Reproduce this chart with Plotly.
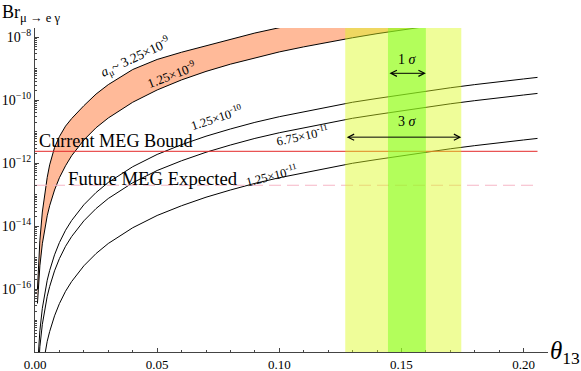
import plotly.graph_objects as go

# theta_13 grid and log10(Br) for each a_mu curve
theta = [0.001, 0.0015, 0.002, 0.003, 0.004, 0.005, 0.006, 0.008, 0.010, 0.0125,
         0.015, 0.02, 0.025, 0.03, 0.04, 0.05, 0.06, 0.07, 0.08, 0.09,
         0.10, 0.11, 0.12, 0.13, 0.14, 0.15, 0.16, 0.17, 0.18, 0.19, 0.20, 0.2057]

log_br_325e9 = [-16.00, -15.05, -14.45, -13.55, -12.95, -12.45, -12.05, -11.50, -11.15, -10.82,
                -10.58, -10.17, -9.80, -9.50, -9.02, -8.70, -8.47, -8.26, -8.05, -7.86,
                -7.69, -7.53, -7.38, -7.24, -7.11, -6.99, -6.88, -6.77, -6.67, -6.58, -6.49, -6.44]
log_br_125e9 = [-16.46, -15.76, -15.26, -14.56, -14.06, -13.67, -13.35, -12.85, -12.46, -12.08,
                -11.76, -11.26, -10.87, -10.56, -10.06, -9.67, -9.35, -9.08, -8.85, -8.65,
                -8.46, -8.30, -8.15, -8.01, -7.88, -7.76, -7.65, -7.54, -7.44, -7.35, -7.26, -7.21]
log_br_125e10 = [-18.52, -17.82, -17.32, -16.61, -16.11, -15.72, -15.41, -14.91, -14.52, -14.13,
                 -13.82, -13.32, -12.93, -12.61, -12.11, -11.72, -11.41, -11.14, -10.91, -10.70,
                 -10.52, -10.36, -10.20, -10.06, -9.94, -9.82, -9.70, -9.60, -9.50, -9.40, -9.32, -9.27]
log_br_675e11 = [-19.03, -18.33, -17.83, -17.12, -16.62, -16.23, -15.92, -15.42, -15.03, -14.64,
                 -14.33, -13.83, -13.44, -13.12, -12.62, -12.23, -11.92, -11.65, -11.42, -11.21,
                 -11.03, -10.87, -10.71, -10.57, -10.45, -10.33, -10.21, -10.11, -10.01, -9.91, -9.83, -9.78]
log_br_125e11 = [-20.46, -19.76, -19.26, -18.55, -18.05, -17.66, -17.35, -16.85, -16.46, -16.07,
                 -15.76, -15.26, -14.87, -14.55, -14.05, -13.66, -13.35, -13.08, -12.85, -12.64,
                 -12.46, -12.30, -12.14, -12.00, -11.88, -11.76, -11.64, -11.54, -11.44, -11.34, -11.26, -11.21]

meg_bound = 2.4e-12
meg_future = 2.0e-13
theta_end = 0.2057

sigma1 = [0.1445, 0.160]
sigma3 = [0.127, 0.1745]

x_ticks = [0.0, 0.05, 0.10, 0.15, 0.20]
x_ticktext = ["0.00", "0.05", "0.10", "0.15", "0.20"]
y_exps = [-16, -14, -12, -10, -8]

SERIF = "Liberation Serif"


def br(logs):
    return [10 ** v for v in logs]


fig = go.Figure()

# orange band between the two a_mu curves
fig.add_trace(go.Scatter(x=theta, y=br(log_br_125e9), mode="lines",
                         line=dict(color="black", width=1)))
fig.add_trace(go.Scatter(x=theta, y=br(log_br_325e9), mode="lines", fill="tonexty",
                         fillcolor="rgb(255,186,153)", line=dict(color="black", width=1)))
for logs in [log_br_125e10, log_br_675e11, log_br_125e11]:
    fig.add_trace(go.Scatter(x=theta, y=br(logs), mode="lines",
                             line=dict(color="black", width=1)))

fig.add_trace(go.Scatter(x=[0, theta_end], y=[meg_bound, meg_bound], mode="lines",
                         line=dict(color="rgb(228,40,40)", width=1)))
fig.add_trace(go.Scatter(x=[0, theta_end], y=[meg_future, meg_future], mode="lines",
                         line=dict(color="rgb(246,182,198)", width=1, dash="12px,6px")))

# theta_13 bands, drawn over the curves so they tint them
fig.add_shape(type="rect", xref="x", yref="paper", x0=sigma3[0], x1=sigma3[1], y0=0, y1=1,
              fillcolor="rgb(219,251,28)", opacity=0.45, line_width=0, layer="above")
fig.add_shape(type="rect", xref="x", yref="paper", x0=sigma1[0], x1=sigma1[1], y0=0, y1=1,
              fillcolor="rgb(120,255,30)", opacity=0.5, line_width=0, layer="above")

minor_vals = [k * 10.0 ** d for d in range(-18, -7) for k in range(1, 10)]

fig.update_layout(
    width=581, height=371,
    margin=dict(l=35, r=33, t=28, b=19),
    paper_bgcolor="white", plot_bgcolor="white",
    showlegend=False,
    hovermode=False,
    xaxis=dict(range=[0, 0.21], tickvals=x_ticks, ticktext=x_ticktext, automargin=False,
               ticks="inside", ticklen=4, tickcolor="#444",
               showline=True, linecolor="#444", linewidth=1,
               showgrid=False, zeroline=False,
               tickfont=dict(family=SERIF, size=13, color="black"),
               minor=dict(dtick=0.01, ticks="inside", ticklen=2, tickcolor="#444")),
    yaxis=dict(type="log", range=[-18, -7.7], automargin=False,
               tickvals=[10.0 ** e for e in y_exps],
               ticktext=["10<sup>\u2212%d</sup>" % (-e) for e in y_exps],
               ticks="inside", ticklen=4, tickcolor="#444",
               showline=True, linecolor="#444", linewidth=1,
               showgrid=False, zeroline=False,
               tickfont=dict(family=SERIF, size=14, color="black"),
               minor=dict(tickmode="array", tickvals=minor_vals, ticks="inside",
                          ticklen=2, tickcolor="#444")),
)

# axis titles
fig.add_annotation(xref="paper", yref="paper", x=-0.068, y=1.085, xanchor="left", yanchor="top",
                   text="Br<sub>\u03bc \u2192 e \u03b3</sub>", showarrow=False,
                   font=dict(family=SERIF, size=18, color="black"))
fig.add_annotation(xref="paper", yref="paper", x=1.0, y=0.0, xanchor="left", yanchor="middle",
                   text="<i>\u03b8</i><sub>13</sub>", showarrow=False,
                   font=dict(family=SERIF, size=25, color="black"))

# curve labels (y in log10 units)
curve_labels = [
    ("<i>a</i><sub>\u03bc</sub>~ 3.25\u00d710<sup>-9</sup>", 0.0410, -8.64, -25, 13.5),
    ("1.25\u00d710<sup>-9</sup>", 0.056, -9.17, -21, 13),
    ("1.25\u00d710<sup>-10</sup>", 0.0744, -10.54, -18, 12.5),
    ("6.75\u00d710<sup>-11</sup>", 0.1096, -11.11, -12, 12.5),
    ("1.25\u00d710<sup>-11</sup>", 0.0969, -12.36, -14, 12.5),
]
for txt, lx, ly, ang, fs in curve_labels:
    fig.add_annotation(x=lx, y=ly, text=txt, showarrow=False, textangle=ang,
                       font=dict(family=SERIF, size=fs, color="black"))

fig.add_annotation(x=0.0331, y=-11.30, text="Current MEG Bound", showarrow=False,
                   font=dict(family=SERIF, size=18.2, color="black"))
fig.add_annotation(x=0.0483, y=-12.48, text="Future MEG Expected", showarrow=False,
                   font=dict(family=SERIF, size=18.7, color="black"))

fig.add_annotation(x=0.1526, y=-8.70, text="1 <i>\u03c3</i>", showarrow=False,
                   font=dict(family=SERIF, size=14, color="black"))
fig.add_annotation(x=0.1526, y=-10.67, text="3 <i>\u03c3</i>", showarrow=False,
                   font=dict(family=SERIF, size=14, color="black"))

# double-headed arrows across the sigma ranges
for (a, b), yy in [(sigma1, -9.14), (sigma3, -11.17)]:
    fig.add_annotation(x=b, y=yy, ax=a, ay=yy, axref="x", ayref="y", text="",
                       showarrow=True, arrowside="end+start", arrowhead=5, startarrowhead=5,
                       arrowsize=1.2, startarrowsize=1.2, arrowwidth=1, arrowcolor="black")

# the page's default body margin would shift the figure by 8px
fig.write_html("out.html", config={"displayModeBar": False},
               post_script="document.body.style.margin='0';")
